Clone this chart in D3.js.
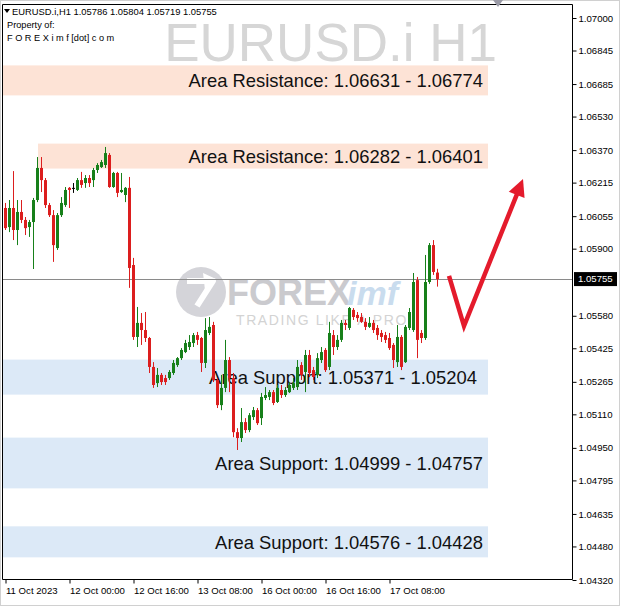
<!DOCTYPE html>
<html><head><meta charset="utf-8">
<script src="https://cdn.jsdelivr.net/npm/d3@7"></script>
<style>html,body{margin:0;padding:0;background:#fff;} svg{display:block;}</style>
</head><body>
<svg id="c" width="620" height="606"></svg>
<script>
// ---------------- DATA ----------------
const watermark = "EURUSD.i H1";
const headerSymbol = "EURUSD.i,H1";
const headerOHLC = ["1.05786", "1.05804", "1.05719", "1.05755"];
const headerLines = ["Property of:", "F O R E X i m f [dot] c o m"];

const opens = [1.06094,1.06003,1.06094,1.05989,1.06075,1.06037,1.06003,1.06027,1.06132,1.06285,
1.06227,1.06108,1.06060,1.05903,1.06060,1.06108,1.06190,1.06190,1.06180,1.06227,
1.06213,1.06237,1.06227,1.06275,1.06289,1.06299,1.06347,1.06194,1.06261,1.06170,
1.06156,1.06190,1.05822,1.05479,1.05546,1.05512,1.05474,1.05336,1.05259,1.05298,
1.05283,1.05283,1.05307,1.05345,1.05378,1.05407,1.05431,1.05450,1.05488,1.05474,
1.05355,1.05498,1.05536,1.05274,1.05154,1.05236,1.05369,1.05283,1.05025,1.04997,
1.05073,1.05035,1.05097,1.05130,1.05092,1.05188,1.05193,1.05216,1.05169,1.05226,
1.05202,1.05216,1.05236,1.05240,1.05345,1.05312,1.05393,1.05321,1.05298,1.05369,
1.05417,1.05336,1.05488,1.05431,1.05465,1.05546,1.05522,1.05608,1.05584,1.05574,
1.05551,1.05527,1.05546,1.05522,1.05498,1.05488,1.05474,1.05441,1.05359,1.05479,
1.05359,1.05522,1.05512,1.05750,1.05498,1.05474,1.05741,1.05917,1.05786];
const highs = [1.06118,1.06132,1.06270,1.06132,1.06132,1.06051,1.06037,1.06142,1.06337,1.06337,
1.06237,1.06118,1.06084,1.06070,1.06146,1.06194,1.06194,1.06213,1.06237,1.06266,
1.06251,1.06251,1.06285,1.06308,1.06323,1.06385,1.06356,1.06266,1.06266,1.06261,
1.06194,1.06242,1.05856,1.05622,1.05593,1.05598,1.05479,1.05359,1.05331,1.05307,
1.05298,1.05321,1.05369,1.05383,1.05426,1.05465,1.05488,1.05498,1.05503,1.05479,
1.05569,1.05574,1.05551,1.05283,1.05298,1.05465,1.05383,1.05307,1.05044,1.05140,
1.05092,1.05116,1.05145,1.05140,1.05212,1.05240,1.05226,1.05226,1.05250,1.05250,
1.05240,1.05264,1.05283,1.05369,1.05359,1.05417,1.05417,1.05336,1.05402,1.05431,
1.05426,1.05551,1.05512,1.05488,1.05560,1.05560,1.05622,1.05617,1.05598,1.05593,
1.05569,1.05574,1.05560,1.05536,1.05512,1.05503,1.05498,1.05450,1.05536,1.05488,
1.05536,1.05617,1.05784,1.05765,1.05512,1.05870,1.05927,1.05941,1.05804];
const lows = [1.05989,1.05979,1.05941,1.05917,1.06022,1.05965,1.05956,1.05803,1.06122,1.06170,
1.06094,1.06051,1.05837,1.05894,1.06051,1.06099,1.06094,1.06166,1.06175,1.06190,
1.06190,1.06194,1.06194,1.06261,1.06285,1.06285,1.06190,1.06190,1.06146,1.06166,
1.06122,1.05713,1.05465,1.05431,1.05441,1.05455,1.05307,1.05236,1.05240,1.05250,
1.05250,1.05274,1.05298,1.05336,1.05369,1.05402,1.05417,1.05431,1.05441,1.05312,
1.05331,1.05488,1.05264,1.05140,1.05130,1.05216,1.05216,1.05001,1.04940,1.04978,
1.05021,1.05025,1.05083,1.05059,1.05059,1.05178,1.05178,1.05154,1.05164,1.05188,
1.05193,1.05212,1.05226,1.05226,1.05274,1.05216,1.05288,1.05274,1.05283,1.05355,
1.05312,1.05321,1.05393,1.05417,1.05455,1.05512,1.05512,1.05560,1.05551,1.05546,
1.05512,1.05522,1.05498,1.05465,1.05455,1.05450,1.05417,1.05331,1.05336,1.05321,
1.05355,1.05512,1.05503,1.05378,1.05450,1.05465,1.05732,1.05775,1.05719];
const closes = [1.05998,1.06094,1.05989,1.06075,1.06037,1.05998,1.06027,1.06132,1.06285,1.06227,
1.06108,1.06060,1.05917,1.06060,1.06118,1.06180,1.06180,1.06190,1.06227,1.06204,
1.06237,1.06213,1.06275,1.06299,1.06313,1.06356,1.06194,1.06261,1.06166,1.06180,
1.06190,1.05808,1.05479,1.05546,1.05512,1.05474,1.05336,1.05250,1.05298,1.05264,
1.05264,1.05312,1.05355,1.05378,1.05417,1.05450,1.05455,1.05488,1.05465,1.05355,
1.05512,1.05527,1.05274,1.05154,1.05236,1.05369,1.05283,1.05025,1.04997,1.05073,
1.05035,1.05106,1.05130,1.05068,1.05193,1.05202,1.05216,1.05164,1.05236,1.05202,
1.05226,1.05250,1.05259,1.05336,1.05298,1.05393,1.05307,1.05288,1.05378,1.05407,
1.05321,1.05498,1.05431,1.05465,1.05546,1.05536,1.05617,1.05574,1.05569,1.05551,
1.05527,1.05546,1.05512,1.05488,1.05479,1.05465,1.05426,1.05369,1.05479,1.05336,
1.05527,1.05598,1.05741,1.05465,1.05474,1.05741,1.05917,1.05789,1.05755];

const timeTickBars = [0, 16, 32, 48, 64, 80, 96];
const timeTickLabels = ["11 Oct 2023", "12 Oct 00:00", "12 Oct 16:00", "13 Oct 08:00", "16 Oct 00:00", "16 Oct 16:00", "17 Oct 08:00"];
const priceTicks = [1.07000,1.06845,1.06685,1.06530,1.06370,1.06215,1.06055,1.05900,1.05580,1.05425,1.05265,1.05110,1.04950,1.04795,1.04635,1.04480,1.04320];
const currentPrice = 1.05755;

const zoneLabels = ["Area Resistance: 1.06631 - 1.06774", "Area Resistance: 1.06282 - 1.06401",
  "Area Support: 1.05371 - 1.05204", "Area Support: 1.04999 - 1.04757", "Area Support: 1.04576 - 1.04428"];
const zoneLow  = [1.06631, 1.06282, 1.05204, 1.04757, 1.04428];
const zoneHigh = [1.06774, 1.06401, 1.05371, 1.04999, 1.04576];
const zoneKind = ["resistance", "resistance", "support", "support", "support"];
const zoneStartBar = [-0.5, 8.25, -0.5, -0.5, -0.5];
const zoneEndBar = 120.75;

const arrowBars = [111, 114.75, 129.5];
const arrowPrices = [1.05770, 1.05531, 1.06232];

// ---------------- DRAW ----------------
const W = 620, H = 606;
const frame = {left: 2, top: 4, right: 572, bottom: 579};
const font = "'Liberation Sans', Arial, sans-serif";
const svg = d3.select("#c");

const x = d3.scaleLinear().domain([0, 108]).range([5, 437]);
const y = d3.scaleLinear().domain([1.04320, 1.07000]).range([580, 18]);

svg.append("rect").attr("x", 0.5).attr("y", 0.5).attr("width", W - 1).attr("height", H - 1)
  .attr("fill", "#fff").attr("stroke", "#d0d0d0");

// watermark
svg.append("text").attr("x", 497).attr("y", 61).attr("text-anchor", "end")
  .attr("font-family", font).attr("font-size", 53).attr("fill", "#d6d6d6").text(watermark);

// zones
const zoneColor = {resistance: "#fde3d6", support: "#dce9f7"};
const zg = svg.append("g");
zoneLabels.forEach((lab, i) => {
  const y0 = y(zoneHigh[i]), y1 = y(zoneLow[i]);
  const x0 = Math.max(frame.left + 1, x(zoneStartBar[i])), x1 = x(zoneEndBar);
  zg.append("rect").attr("x", x0).attr("y", y0).attr("width", x1 - x0).attr("height", y1 - y0)
    .attr("fill", zoneColor[zoneKind[i]]);
});

// logo watermark
const lg = svg.append("g");
lg.append("circle").attr("cx", 201).attr("cy", 292).attr("r", 25).attr("fill", "#d4d4d9");
lg.append("path").attr("d", "M187,281 L213,281 L197,306").attr("fill", "none")
  .attr("stroke", "#fff").attr("stroke-width", 6).attr("stroke-linejoin", "round");
lg.append("path").attr("d", "M203,273 L216,279 L205,290 Z").attr("fill", "#fff");
lg.append("text").attr("x", 227).attr("y", 305).attr("font-family", font).attr("font-weight", "bold")
  .attr("font-size", 36).attr("fill", "#cacace").text("FOREX");
lg.append("text").attr("x", 347).attr("y", 305).attr("font-family", font).attr("font-weight", "bold")
  .attr("font-style", "italic").attr("font-size", 34).attr("fill", "#c9dcee").text("imf");
lg.append("text").attr("x", 236).attr("y", 325).attr("font-family", font)
  .attr("font-size", 14).attr("letter-spacing", 1.6).attr("fill", "#d3d3d3").text("TRADING LIKE A PRO");

// zone labels (first support label sits a little further left in the original)
const labelShift = [0, 0, -6, 0, 0];
zoneLabels.forEach((lab, i) => {
  const mid = (y(zoneHigh[i]) + y(zoneLow[i])) / 2;
  svg.append("text").attr("x", x(zoneEndBar) - 5 + labelShift[i]).attr("y", mid + 7).attr("text-anchor", "end")
    .attr("font-family", font).attr("font-size", 18.4).attr("fill", "#111").text(lab);
});

// current price line
svg.append("line").attr("x1", frame.left).attr("x2", frame.right)
  .attr("y1", Math.round(y(currentPrice)) + 0.5).attr("y2", Math.round(y(currentPrice)) + 0.5)
  .attr("stroke", "#8a8a8a").attr("stroke-width", 1);

// candles
const up = "#17801a", down = "#dc1e1e", flat = "#000";
const cg = svg.append("g");
opens.forEach((o, i) => {
  const c = closes[i];
  const col = c > o ? up : (c < o ? down : flat);
  const cx = Math.round(x(i));
  cg.append("line").attr("x1", cx + 0.5).attr("x2", cx + 0.5)
    .attr("y1", y(highs[i])).attr("y2", y(lows[i])).attr("stroke", col).attr("stroke-width", 1);
  const top = y(Math.max(o, c)), bot = y(Math.min(o, c));
  cg.append("rect").attr("x", cx - 1).attr("y", top).attr("width", 3)
    .attr("height", Math.max(1, bot - top)).attr("fill", col);
});

// red arrow annotation
const pts = arrowBars.map((b, i) => [x(b), y(arrowPrices[i])]);
const tip = pts[2], prev = pts[1];
const dx = tip[0] - prev[0], dy = tip[1] - prev[1], len = Math.hypot(dx, dy);
const ux = dx / len, uy = dy / len, headL = 17, headW = 8.5;
const base = [tip[0] - ux * headL, tip[1] - uy * headL];
const lineEnd = [tip[0] - ux * (headL - 3), tip[1] - uy * (headL - 3)];
svg.append("path").attr("d", d3.line()([pts[0], pts[1], lineEnd]))
  .attr("fill", "none").attr("stroke", "#e41b2c").attr("stroke-width", 4.5).attr("stroke-linejoin", "miter");
svg.append("path").attr("d", d3.line()([tip, [base[0] - uy * headW, base[1] + ux * headW], [base[0] + uy * headW, base[1] - ux * headW]]) + "Z")
  .attr("fill", "#e41b2c");

// frame
svg.append("path").attr("d", `M${frame.left + 0.5},${frame.top + 0.5} H${frame.right + 0.5} V${frame.bottom + 0.5} H${frame.left + 0.5} Z`)
  .attr("fill", "none").attr("stroke", "#000").attr("stroke-width", 1);

// price axis
const ya = svg.append("g").attr("transform", `translate(${frame.right + 0.5},0)`)
  .call(d3.axisRight(y).tickValues(priceTicks).tickFormat(d3.format(".5f")).tickSize(4).tickPadding(2));
ya.select(".domain").remove();
ya.selectAll("text").attr("font-family", font).attr("font-size", 9.6).attr("fill", "#000");
ya.selectAll("line").attr("stroke", "#000");

// current price box
const cpy = y(currentPrice);
svg.append("rect").attr("x", frame.right + 2).attr("y", cpy - 7).attr("width", 43).attr("height", 14).attr("fill", "#000");
svg.append("text").attr("x", frame.right + 6).attr("y", cpy).attr("dy", "0.34em")
  .attr("font-family", font).attr("font-size", 9.6).attr("fill", "#fff").text(d3.format(".5f")(currentPrice));

// time axis
const xa = svg.append("g").attr("transform", `translate(0.5,${frame.bottom + 0.5})`)
  .call(d3.axisBottom(x).tickValues(timeTickBars).tickFormat((d, i) => timeTickLabels[i]).tickSize(4).tickPadding(4));
xa.select(".domain").remove();
xa.selectAll("text").attr("text-anchor", "start").attr("x", 0).attr("font-family", font).attr("font-size", 9.6).attr("fill", "#000");
xa.selectAll("line").attr("stroke", "#000");

// top shift marker
svg.append("path").attr("d", "M493,0 L503,0 L498,7 Z").attr("fill", "#9a9aa6");

// header
svg.append("path").attr("d", "M4,9 L10,9 L7,13 Z").attr("fill", "#000");
svg.append("text").attr("x", 12).attr("y", 15).attr("font-family", font).attr("font-size", 9.4).attr("fill", "#000")
  .text(headerSymbol + "  " + headerOHLC.join(" "));
headerLines.forEach((t, i) => {
  svg.append("text").attr("x", 7).attr("y", 28 + i * 13).attr("font-family", font).attr("font-size", 9.2)
    .attr("fill", "#000").text(t);
});
</script>
</body></html>
